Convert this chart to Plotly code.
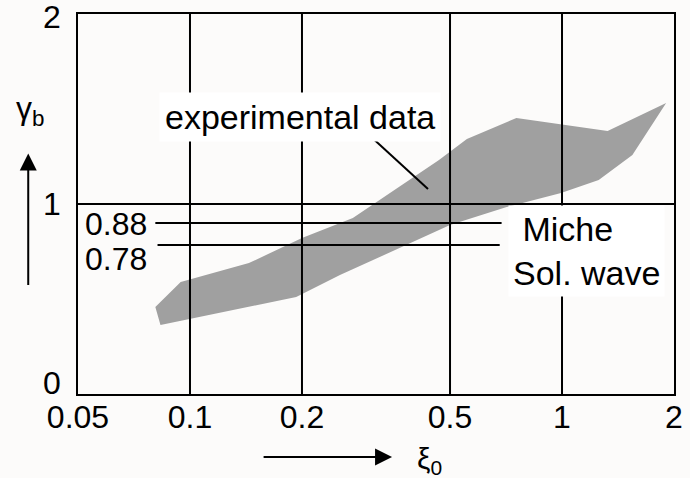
import math
import plotly.graph_objects as go

# ---- data ----
# experimental data band (upper boundary, left -> right)
upper_x = [0.0807, 0.0944, 0.144, 0.2, 0.274, 0.467, 0.555, 0.754, 1.326, 1.905]
upper_y = [0.458, 0.589, 0.689, 0.821, 0.926, 1.232, 1.342, 1.453, 1.384, 1.532]
# lower boundary (right -> left)
lower_x = [1.546, 1.255, 0.994, 0.710, 0.5, 0.253, 0.193, 0.1, 0.0833]
lower_y = [1.258, 1.126, 1.058, 0.984, 0.889, 0.626, 0.511, 0.395, 0.363]

# breaking-criterion reference lines
miche_x = [0.0807, 0.688]
miche_y = [0.90, 0.90]
sol_x = [0.0818, 0.680]
sol_y = [0.784, 0.784]

x_ticks = [0.05, 0.1, 0.2, 0.5, 1, 2]
x_ticktext = ["0.05", "0.1", "0.2", "0.5", "1", "2"]
y_ticks = [0, 1, 2]
y_ticktext = ["0", "1", "2"]
x_grid = [0.1, 0.2, 0.5, 1]
y_grid = [1]

FONT = "Liberation Sans, Arial, sans-serif"
BG = "#fcfbfa"

fig = go.Figure()

# band polygon
fig.add_trace(go.Scatter(
    x=upper_x + lower_x + [upper_x[0]],
    y=upper_y + lower_y + [upper_y[0]],
    mode="lines", fill="toself", fillcolor="#a0a0a0",
    line=dict(width=0, color="#a0a0a0"), hoverinfo="skip"))

# grid lines drawn on top of the band
for gx in x_grid:
    fig.add_trace(go.Scatter(x=[gx, gx], y=[y_ticks[0], y_ticks[-1]], mode="lines",
                             line=dict(color="black", width=2), hoverinfo="skip"))
for gy in y_grid:
    fig.add_trace(go.Scatter(x=[x_ticks[0], x_ticks[-1]], y=[gy, gy], mode="lines",
                             line=dict(color="black", width=2), hoverinfo="skip"))

fig.add_trace(go.Scatter(x=miche_x, y=miche_y, mode="lines",
                         line=dict(color="black", width=2), hoverinfo="skip"))
fig.add_trace(go.Scatter(x=sol_x, y=sol_y, mode="lines",
                         line=dict(color="black", width=2), hoverinfo="skip"))

axis_common = dict(showgrid=False, zeroline=False, showline=True, mirror=True,
                   linecolor="black", linewidth=2, ticks="", automargin=False,
                   tickfont=dict(family=FONT, size=32, color="black"))

fig.update_xaxes(type="log", range=[math.log10(x_ticks[0]), math.log10(x_ticks[-1])],
                 tickvals=x_ticks, ticktext=x_ticktext, ticklabelstandoff=-6, **axis_common)
fig.update_yaxes(range=[y_ticks[0], y_ticks[-1]], tickvals=y_ticks,
                 showticklabels=False, **axis_common)

annotations = []
# y tick labels (the "0" sits a little above the axis in the original)
for v, t in zip(y_ticks, y_ticktext):
    shift = 0
    if v == y_ticks[0]:
        shift = 11
    elif v == y_ticks[-1]:
        shift = -3
    annotations.append(dict(x=-0.025, y=v, xref="paper", yref="y", text=t,
                            showarrow=False, xanchor="right", yanchor="middle",
                            yshift=shift,
                            font=dict(family=FONT, size=32, color="black")))

annotations += [
    # experimental data label (white box)
    dict(x=0.372, y=0.729, xref="paper", yref="paper", text="experimental data",
         showarrow=False, bgcolor="white", borderpad=5,
         xanchor="center", yanchor="middle",
         font=dict(family=FONT, size=34, color="black")),
    # Miche / Sol. wave label
    dict(x=0.721, y=0.497, xref="paper", yref="paper", text=" Miche<br>Sol. wave",
         showarrow=False, bgcolor="white", borderpad=4, align="left",
         xanchor="left", yanchor="top",
         font=dict(family=FONT, size=34, color="black")),
    # 0.88 / 0.78 labels
    dict(x=0.009, y=0.447, xref="paper", yref="paper", text="0.88", showarrow=False,
         xanchor="left", yanchor="middle", font=dict(family=FONT, size=32, color="black")),
    dict(x=0.009, y=0.355, xref="paper", yref="paper", text="0.78", showarrow=False,
         xanchor="left", yanchor="middle", font=dict(family=FONT, size=32, color="black")),
    # y axis title + arrow
    dict(x=-0.0805, y=0.747, xref="paper", yref="paper", text="γ<sub>b</sub>",
         showarrow=False, xanchor="center", yanchor="middle",
         font=dict(family=FONT, size=32, color="black")),
    dict(x=-0.0835, y=0.633, xref="paper", yref="paper", text="", showarrow=True,
         ax=0, ay=133, arrowhead=2, arrowsize=1.7, arrowwidth=2, arrowcolor="black"),
    # x axis title + arrow
    dict(x=0.527, y=-0.166, xref="paper", yref="paper", text="", showarrow=True,
         ax=-130, ay=0, arrowhead=2, arrowsize=1.7, arrowwidth=2, arrowcolor="black"),
    dict(x=0.589, y=-0.174, xref="paper", yref="paper", text="ξ<sub>0</sub>",
         showarrow=False, xanchor="center", yanchor="middle",
         font=dict(family=FONT, size=30, color="black")),
]

shapes = [
    # pointer from label to band
    dict(type="line", xref="paper", yref="paper",
         x0=(368 - 78) / 596, y0=(394 - 134) / 380,
         x1=(428 - 78) / 596, y1=(394 - 189) / 380,
         line=dict(color="black", width=2)),
]

fig.update_layout(
    width=690, height=478,
    margin=dict(l=78, r=16, t=14, b=84),
    paper_bgcolor=BG, plot_bgcolor=BG,
    showlegend=False, hovermode=False,
    annotations=annotations, shapes=shapes,
    font=dict(family=FONT, color="black"),
)

fig.write_html("out.html")
